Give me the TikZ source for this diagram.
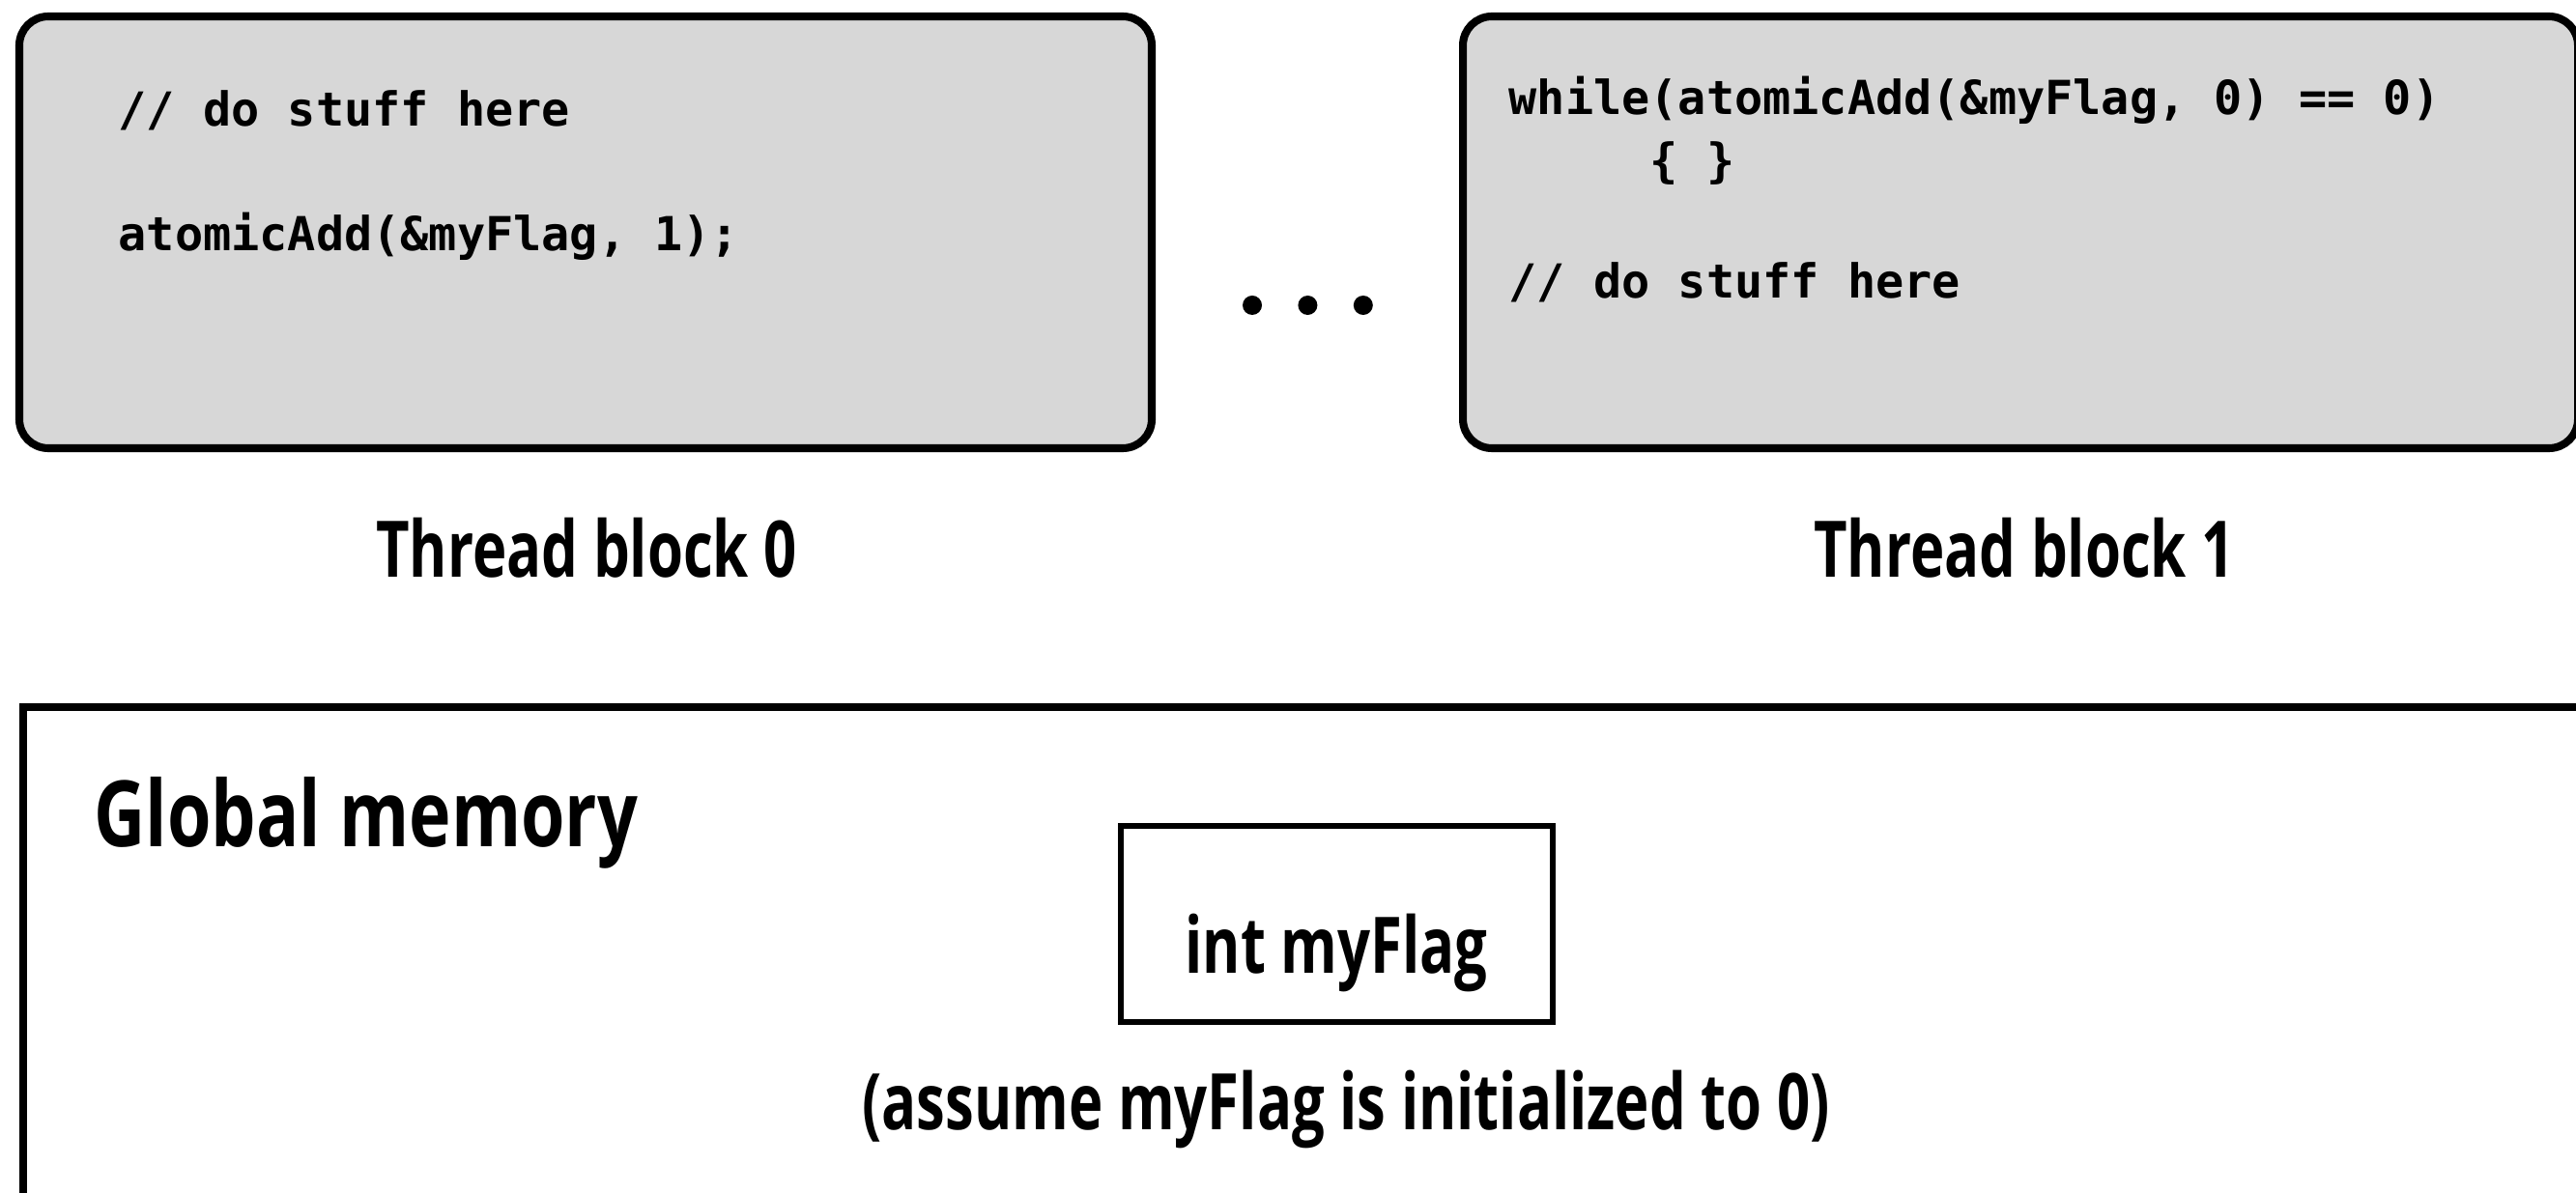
\documentclass[tikz,border=0pt]{standalone}
\usepackage{fontspec}
\usepackage{tikz}
\usetikzlibrary{positioning}
\setmonofont{DejaVu Sans Mono}
\newfontfamily\headfont{Open Sans}[FakeStretch=0.74]
\newfontfamily\titlefont{Open Sans}[FakeStretch=0.775]
\definecolor{blockgray}{RGB}{215,215,215}

\begin{document}
\begin{tikzpicture}[every node/.style={inner sep=0pt}]
  \tikzstyle{block}=[draw, line width=2.3pt, rounded corners=0.3cm, fill=blockgray, minimum height=4.47cm]
  \tikzstyle{code}=[font=\ttfamily\bfseries\fontsize{13.8}{16}\selectfont, anchor=base west]
  \tikzstyle{heading}=[font=\headfont\bfseries\fontsize{23}{26}\selectfont, anchor=base]
  \tikzstyle{dot}=[circle, fill, minimum size=0.2cm]
  \useasboundingbox (0,0) rectangle (26.66,12.35);
  % thread blocks
  \node[block, minimum width=11.72cm] (tb0) at (6.06,9.945) {};
  \node[block, minimum width=11.54cm, anchor=west] (tb1) at (15.10,9.945) {};
  \node[code] (c0a) at (1.22,11.04) {// do stuff here};
  \node[code] (c0b) at (1.22,9.75) {atomicAdd(\&myFlag, 1);};
  \node[code] (c1a) at (15.61,11.16) {while(atomicAdd(\&myFlag, 0) == 0)};
  \node[code] (c1b) at (15.61,10.51) {\ \ \ \ \ \{ \}};
  \node[code] (c1c) at (15.61,9.26) {// do stuff here};
  \node[dot] (d1) at (12.96,9.19) {};
  \node[dot, right=0.36cm of d1] (d2) {};
  \node[dot, right=0.36cm of d2] (d3) {};
  \node[heading] (l0) at (6.07,6.37) {Thread block 0};
  \node[heading] (l1) at (20.95,6.37) {Thread block 1};
  % global memory
  \node[draw, line width=2.3pt, anchor=north west, minimum width=27cm, minimum height=6cm] (gm) at (0.20,5.07) {};
  \node[anchor=base west, font=\titlefont\bfseries\fontsize{27}{30}\selectfont] (gmt) at (0.97,3.58) {Global memory};
  \node[draw, line width=1.9pt, minimum width=4.47cm, minimum height=2.03cm] (flag) at (13.835,2.785) {};
  \node[heading] (flagname) at (13.83,2.27) {int myFlag};
  \node[heading] (note) at (13.93,0.65) {(assume myFlag is initialized to 0)};
\end{tikzpicture}
\end{document}
